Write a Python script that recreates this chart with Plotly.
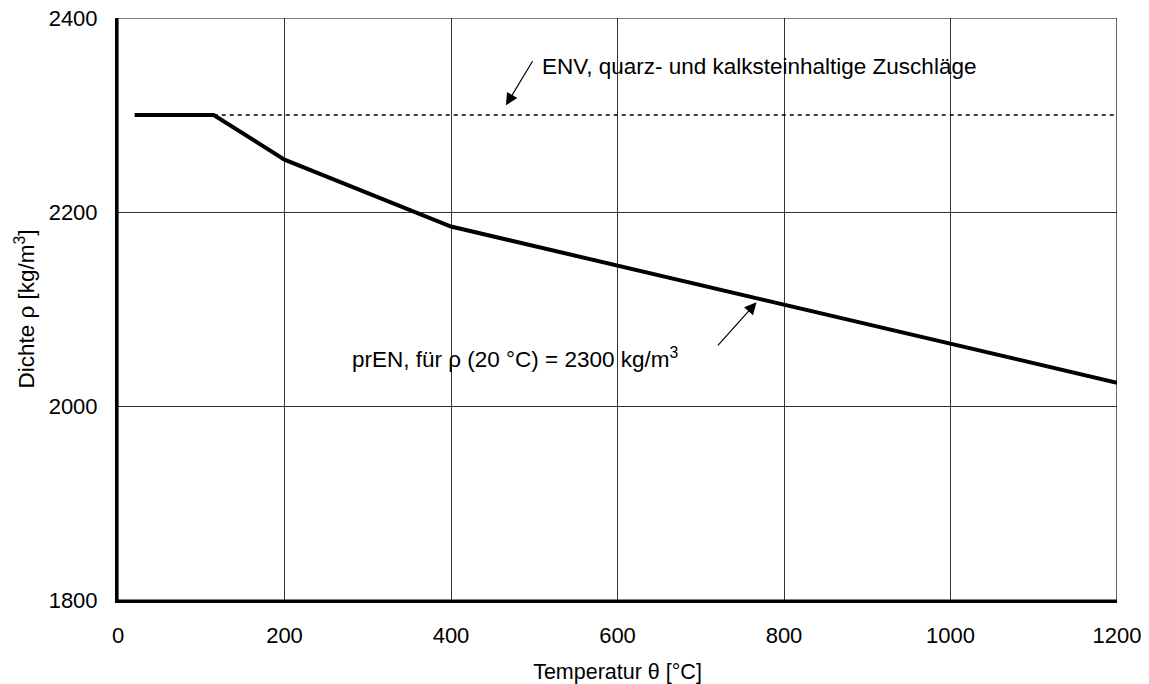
import plotly.graph_objects as go

# Rohdichte von Normalbeton in Abhängigkeit der Temperatur
temp_pren = [20, 115, 200, 400, 1200]
dichte_pren = [2300, 2300, 2254, 2185, 2024]

temp_env = [115, 1200]
dichte_env = [2300, 2300]

x_ticks = [0, 200, 400, 600, 800, 1000, 1200]
y_ticks = [1800, 2000, 2200, 2400]

font_family = "Liberation Sans, Arial, sans-serif"

fig = go.Figure()

fig.add_trace(go.Scatter(
    x=temp_env, y=dichte_env, mode="lines",
    line=dict(color="black", width=1.5, dash="4px,4px"),
    showlegend=False, hoverinfo="skip",
))
fig.add_trace(go.Scatter(
    x=temp_pren, y=dichte_pren, mode="lines",
    line=dict(color="black", width=4),
    showlegend=False, hoverinfo="skip",
))

# dünner Rahmen oben und rechts
fig.add_shape(type="rect", xref="x", yref="y", x0=0, x1=1200, y0=1800, y1=2400,
              line=dict(color="black", width=1.2), layer="above")

# Beschriftungen mit Pfeilen
fig.add_annotation(
    x=507, y=2350, text="ENV, quarz- und kalksteinhaltige Zuschläge",
    xref="x", yref="y", xanchor="left", yanchor="middle", showarrow=False,
    font=dict(family=font_family, size=22.5, color="black"),
)
fig.add_annotation(
    x=466, y=2310, ax=499, ay=2357, xref="x", yref="y", axref="x", ayref="y",
    showarrow=True, arrowhead=2, arrowsize=2, arrowwidth=1.2, arrowcolor="black", text="",
)
fig.add_annotation(
    x=279, y=2050, text="prEN, für ρ (20 °C) = 2300 kg/m<sup>3</sup>",
    xref="x", yref="y", xanchor="left", yanchor="middle", showarrow=False,
    font=dict(family=font_family, size=22.5, color="black"),
)
fig.add_annotation(
    x=767, y=2107, ax=719, ay=2061, xref="x", yref="y", axref="x", ayref="y",
    showarrow=True, arrowhead=2, arrowsize=2, arrowwidth=1.2, arrowcolor="black", text="",
)

fig.update_layout(
    width=1149, height=684,
    margin=dict(l=118, r=32, t=18, b=84),
    paper_bgcolor="white", plot_bgcolor="white",
    font=dict(family=font_family, size=22, color="black"),
)
fig.update_xaxes(
    range=[0, 1200], tickvals=x_ticks, ticks="", automargin=False,
    showgrid=True, gridcolor="#333333", gridwidth=1,
    showline=True, linecolor="black", linewidth=3, zeroline=False,
    ticklabelstandoff=14, tickfont=dict(size=22),
    title=dict(text="Temperatur θ [°C]", font=dict(size=21.5), standoff=18),
)
fig.update_yaxes(
    range=[1800, 2400], tickvals=y_ticks, ticks="", automargin=False,
    showgrid=True, gridcolor="#333333", gridwidth=1,
    showline=True, linecolor="black", linewidth=3, zeroline=False,
    ticklabelstandoff=13, tickfont=dict(size=22),
    title=dict(text="Dichte ρ [kg/m<sup>3</sup>]", font=dict(size=22.5), standoff=8),
)

fig.write_html("out.html")
